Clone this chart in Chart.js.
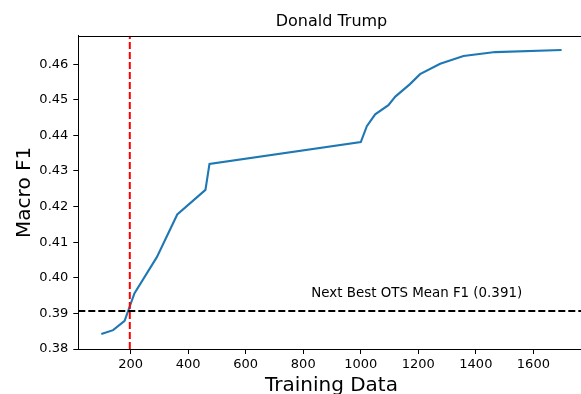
<!DOCTYPE html>
<html>
<head>
<meta charset="utf-8">
<script src="https://cdn.jsdelivr.net/npm/chart.js@4.4.0/dist/chart.umd.min.js"></script>
<style>
  html, body { margin: 0; padding: 0; background: #fff; overflow: hidden; width: 581px; height: 394px; }
  #wrap { width: 581px; height: 394px; overflow: hidden; position: relative; }
  canvas { display: block; }
</style>
</head>
<body>
<div id="wrap"><canvas id="c" width="620" height="394" style="width:620px;height:394px"></canvas></div>
<script>
// ---- data ----
const chartTitle = "Donald Trump";
const xAxisTitle = "Training Data";
const yAxisTitle = "Macro F1";
const trainingSizes = [98, 139, 179, 213, 291, 362, 460, 474, 1000, 1021, 1050, 1096, 1120, 1171, 1206, 1276, 1357, 1467, 1698];
const macroF1 = [0.3842, 0.3853, 0.3879, 0.3956, 0.4058, 0.4178, 0.4247, 0.4320, 0.4381, 0.4426, 0.4459, 0.4485, 0.4509, 0.4544, 0.4572, 0.4601, 0.4623, 0.4634, 0.4640];
const cutoffX = [197];
const otsBestF1 = [0.3907];
const otsLabel = "Next Best OTS Mean F1 (0.391)";
const otsLabelPos = [828, 0.3946];
const xTicks = [200, 400, 600, 800, 1000, 1200, 1400, 1600];
const yTicks = [0.38, 0.39, 0.40, 0.41, 0.42, 0.43, 0.44, 0.45, 0.46];
const xLimits = [18, 1778];
const yLimits = [0.38, 0.468];

const FONT = "'DejaVu Sans', sans-serif";

const seriesPoints = trainingSizes.map((x, i) => ({ x: x, y: macroF1[i] }));
const vLine = [{ x: cutoffX[0], y: yLimits[0] }, { x: cutoffX[0], y: yLimits[1] }];
const hLine = [{ x: xLimits[0], y: otsBestF1[0] }, { x: xLimits[1], y: otsBestF1[0] }];

const decorPlugin = {
  id: 'decor',
  afterDraw(chart) {
    const ctx = chart.ctx;
    const a = chart.chartArea;
    const xs = chart.scales.x, ys = chart.scales.y;
    ctx.save();
    ctx.strokeStyle = '#000';
    ctx.lineWidth = 1;
    ctx.beginPath();
    ctx.moveTo(Math.round(a.left), Math.round(a.top) + 0.5);
    ctx.lineTo(a.right, Math.round(a.top) + 0.5);
    ctx.stroke();
    ctx.fillStyle = '#000';
    ctx.font = "16px " + FONT;
    ctx.textAlign = 'center';
    ctx.textBaseline = 'alphabetic';
    ctx.fillText(chartTitle, (a.left + a.right) / 2, 26);
    ctx.font = "20px " + FONT;
    ctx.fillText(xAxisTitle, (a.left + a.right) / 2, 391);
    ctx.save();
    ctx.translate(30, (a.top + a.bottom) / 2);
    ctx.rotate(-Math.PI / 2);
    ctx.fillText(yAxisTitle, 0, 0);
    ctx.restore();
    ctx.font = "13.4px " + FONT;
    ctx.textAlign = 'left';
    ctx.fillText(otsLabel, xs.getPixelForValue(otsLabelPos[0]), ys.getPixelForValue(otsLabelPos[1]));
    ctx.restore();
  }
};

new Chart(document.getElementById('c'), {
  type: 'line',
  data: {
    datasets: [
      { data: seriesPoints, borderColor: '#1f77b4', borderWidth: 2.1, pointRadius: 0, fill: false, tension: 0, order: 3 },
      { data: vLine, borderColor: '#ff0000', borderWidth: 2, borderDash: [7, 3], pointRadius: 0, fill: false, order: 2 },
      { data: hLine, borderColor: '#000000', borderWidth: 2, borderDash: [7, 3], pointRadius: 0, fill: false, order: 1 }
    ]
  },
  options: {
    responsive: false,
    animation: false,
    devicePixelRatio: 1,
    layout: { padding: { left: 0, top: 35.7, right: 35.4, bottom: 0 } },
    plugins: { legend: { display: false }, tooltip: { enabled: false }, title: { display: false } },
    scales: {
      x: {
        type: 'linear',
        min: xLimits[0],
        max: xLimits[1],
        border: { display: true, color: '#000', width: 1 },
        grid: { drawOnChartArea: false, drawTicks: true, tickLength: 5, color: '#000', lineWidth: 1 },
        ticks: {
          color: '#000', padding: 3, maxRotation: 0, minRotation: 0, autoSkip: false,
          font: { family: FONT, size: 13 },
          callback: v => String(v)
        },
        afterBuildTicks(scale) { scale.ticks = xTicks.map(v => ({ value: v })); },
        afterFit(scale) { scale.height = 45; }
      },
      y: {
        type: 'linear',
        min: yLimits[0],
        max: yLimits[1],
        border: { display: true, color: '#000', width: 1 },
        grid: { drawOnChartArea: false, drawTicks: true, tickLength: 5, color: '#000', lineWidth: 1 },
        ticks: {
          color: '#000', padding: 5, autoSkip: false,
          font: { family: FONT, size: 13 },
          callback: v => Number(v).toFixed(2)
        },
        afterBuildTicks(scale) { scale.ticks = yTicks.map(v => ({ value: v })); },
        afterFit(scale) { scale.width = 78.3; }
      }
    }
  },
  plugins: [decorPlugin]
});
</script>
</body>
</html>
